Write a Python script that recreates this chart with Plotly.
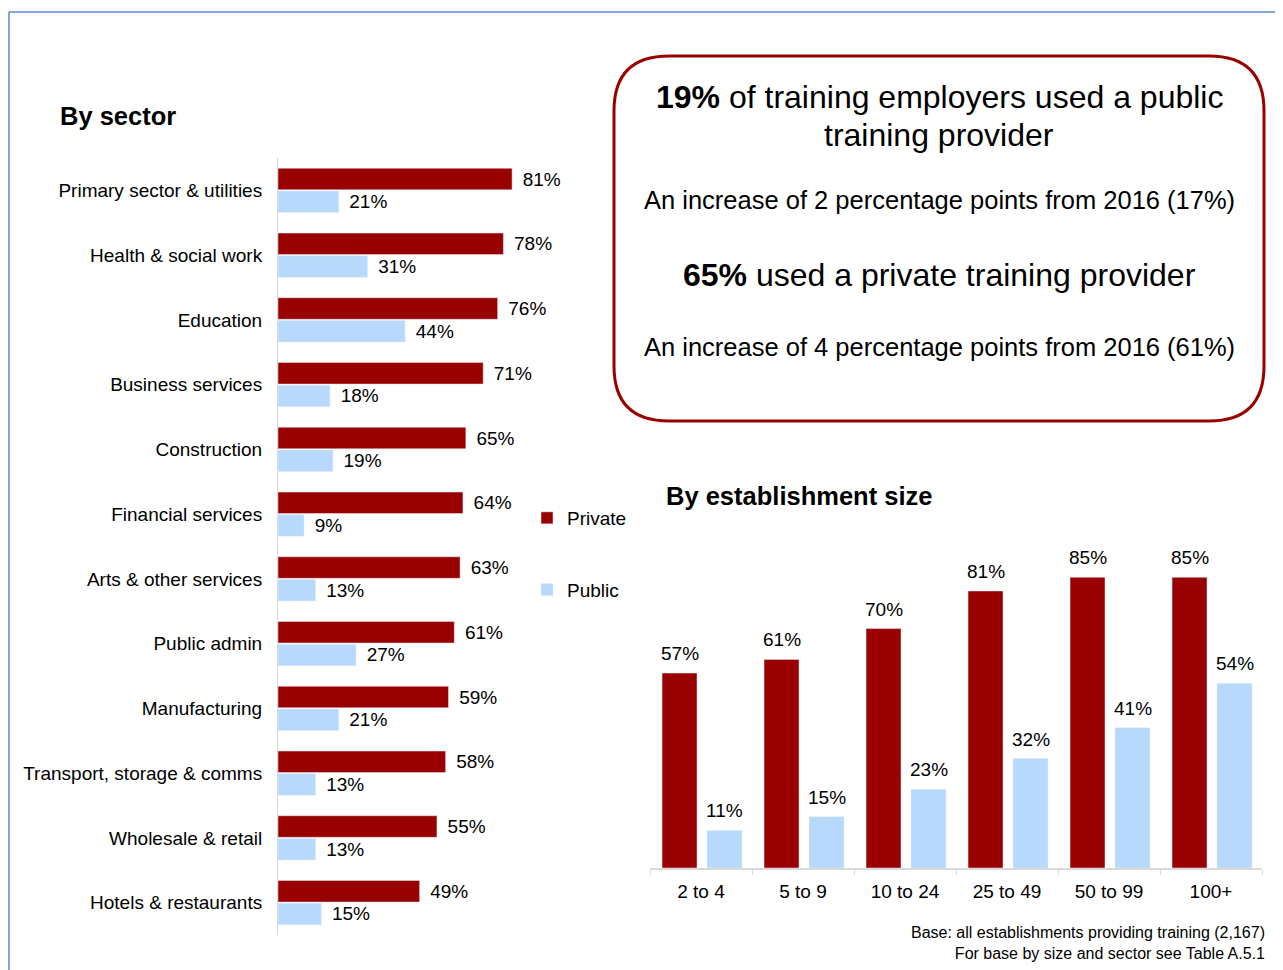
import plotly.graph_objects as go

# by sector
sectors = ["Primary sector & utilities", "Health & social work", "Education",
           "Business services", "Construction", "Financial services",
           "Arts & other services", "Public admin", "Manufacturing",
           "Transport, storage & comms", "Wholesale & retail",
           "Hotels & restaurants"]
sector_private = [81, 78, 76, 71, 65, 64, 63, 61, 59, 58, 55, 49]
sector_public = [21, 31, 44, 18, 19, 9, 13, 27, 21, 13, 13, 15]

# by establishment size
sizes = ["2 to 4", "5 to 9", "10 to 24", "25 to 49", "50 to 99", "100+"]
size_private = [57, 61, 70, 81, 85, 85]
size_public = [11, 15, 23, 32, 41, 54]

# page body has an 8px margin, so the figure is a bit smaller than the window
OFF = 8
W, H = 1283 - OFF, 970 - OFF
RED = "#990000"
BLUE = "#B7D9FC"
FONT = "Liberation Sans, Arial, sans-serif"


def px(x):
    # window pixel -> paper fraction
    return (x - OFF) / W


def py(y):
    return 1 - (y - OFF) / H


def rounded_box(x0, y0, x1, y1, r):
    # svg path in paper coords, built from pixel corners
    p = "M %f,%f " % (px(x0 + r), py(y0))
    p += "L %f,%f " % (px(x1 - r), py(y0))
    p += "Q %f,%f %f,%f " % (px(x1), py(y0), px(x1), py(y0 + r))
    p += "L %f,%f " % (px(x1), py(y1 - r))
    p += "Q %f,%f %f,%f " % (px(x1), py(y1), px(x1 - r), py(y1))
    p += "L %f,%f " % (px(x0 + r), py(y1))
    p += "Q %f,%f %f,%f " % (px(x0), py(y1), px(x0), py(y1 - r))
    p += "L %f,%f " % (px(x0), py(y0 + r))
    p += "Q %f,%f %f,%f Z" % (px(x0), py(y0), px(x0 + r), py(y0))
    return p


fig = go.Figure()

# left: horizontal bars
fig.add_trace(go.Bar(y=sectors, x=sector_private, orientation='h', name="Private",
                     marker_color=RED, legendgroup="a",
                     texttemplate="\u2009\u2009%{x}%", textposition='outside',
                     constraintext='none', cliponaxis=False,
                     textfont=dict(size=19, color="black"),
                     xaxis='x', yaxis='y'))
fig.add_trace(go.Bar(y=sectors, x=sector_public, orientation='h', name="Public",
                     marker_color=BLUE, legendgroup="b",
                     texttemplate="\u2009\u2009%{x}%", textposition='outside',
                     constraintext='none', cliponaxis=False,
                     textfont=dict(size=19, color="black"),
                     xaxis='x', yaxis='y'))

# right: vertical bars (own width/offset, wider gap than the left chart)
fig.add_trace(go.Bar(x=sizes, y=size_private, name="Private", marker_color=RED,
                     width=0.343, offset=-0.382,
                     showlegend=False, xaxis='x2', yaxis='y2', cliponaxis=False))
fig.add_trace(go.Bar(x=sizes, y=size_public, name="Public", marker_color=BLUE,
                     width=0.343, offset=0.059,
                     showlegend=False, xaxis='x2', yaxis='y2', cliponaxis=False))

annotations = []
for i in range(len(sizes)):
    for val, shift in [(size_private[i], -21.5), (size_public[i], 23.5)]:
        annotations.append(dict(x=sizes[i], y=val, xref='x2', yref='y2',
                                text="%d%%" % val, showarrow=False,
                                xshift=shift, yshift=7, yanchor='bottom',
                                font=dict(size=19, color="black")))

# titles and texts
annotations.append(dict(x=px(58), y=py(116), xref='paper', yref='paper',
                        text="<b>By sector</b>", showarrow=False,
                        xanchor='left', yanchor='middle',
                        font=dict(size=25.5, color="black")))
annotations.append(dict(x=px(664), y=py(496), xref='paper', yref='paper',
                        text="<b>By establishment size</b>", showarrow=False,
                        xanchor='left', yanchor='middle',
                        font=dict(size=25.5, color="black")))
box_texts = [
    ("<b>19%</b> of training employers used a public", 97, 32),
    ("training provider", 135, 32),
    ("An increase of 2 percentage points from 2016 (17%)", 200, 25.5),
    ("<b>65%</b> used a private training provider", 275, 32),
    ("An increase of 4 percentage points from 2016 (61%)", 347, 25.5),
]
for txt, yy, sz in box_texts:
    annotations.append(dict(x=px(939), y=py(yy), xref='paper', yref='paper',
                            text=txt, showarrow=False, xanchor='center',
                            yanchor='middle', align='center',
                            font=dict(size=sz, color="black")))
annotations.append(dict(x=px(1267), y=py(943), xref='paper', yref='paper',
                        text="Base: all establishments providing training (2,167)"
                             "<br>For base by size and sector see Table A.5.1",
                        showarrow=False, xanchor='right', yanchor='middle',
                        align='right', font=dict(size=16, color="black")))

shapes = [
    # outer blue frame
    dict(type='line', xref='paper', yref='paper', x0=px(9), x1=px(9),
         y0=py(12), y1=0, line=dict(color="#5B8BD0", width=1.5)),
    dict(type='line', xref='paper', yref='paper', x0=px(9), x1=1,
         y0=py(12), y1=py(12), line=dict(color="#5B8BD0", width=1.5)),
    # key findings box
    dict(type='path', xref='paper', yref='paper',
         path=rounded_box(614, 56, 1264, 421, 55),
         line=dict(color=RED, width=3)),
]

fig.update_layout(
    width=W,
    height=H,
    margin=dict(l=0, r=0, t=0, b=0),
    paper_bgcolor="white",
    plot_bgcolor="white",
    font=dict(family=FONT, color="black"),
    barmode='group',
    bargap=0.3,
    bargroupgap=0.05,
    xaxis=dict(domain=[px(278), px(567)], range=[0, 100], visible=False),
    yaxis=dict(domain=[py(935), py(158)], autorange='reversed',
               showline=True, linecolor="#D9D9D9", linewidth=1,
               ticks='', ticklabelstandoff=11, showgrid=False,
               tickfont=dict(size=19, color="black")),
    xaxis2=dict(domain=[px(650), px(1262)], anchor='y2', showline=True,
                linecolor="#D9D9D9", linewidth=1.5, ticks='outside',
                tickson='boundaries', ticklen=5, tickcolor="#D9D9D9",
                ticklabelstandoff=5,
                tickfont=dict(size=19, color="black"), showgrid=False),
    yaxis2=dict(domain=[py(868), py(526)], anchor='x2', range=[0, 100],
                visible=False),
    legend=dict(x=px(527), y=py(499), xanchor='left', yanchor='top',
                font=dict(size=19, color="black"), tracegroupgap=44,
                bgcolor="rgba(0,0,0,0)"),
    annotations=annotations,
    shapes=shapes,
)

fig.write_html("out.html")
